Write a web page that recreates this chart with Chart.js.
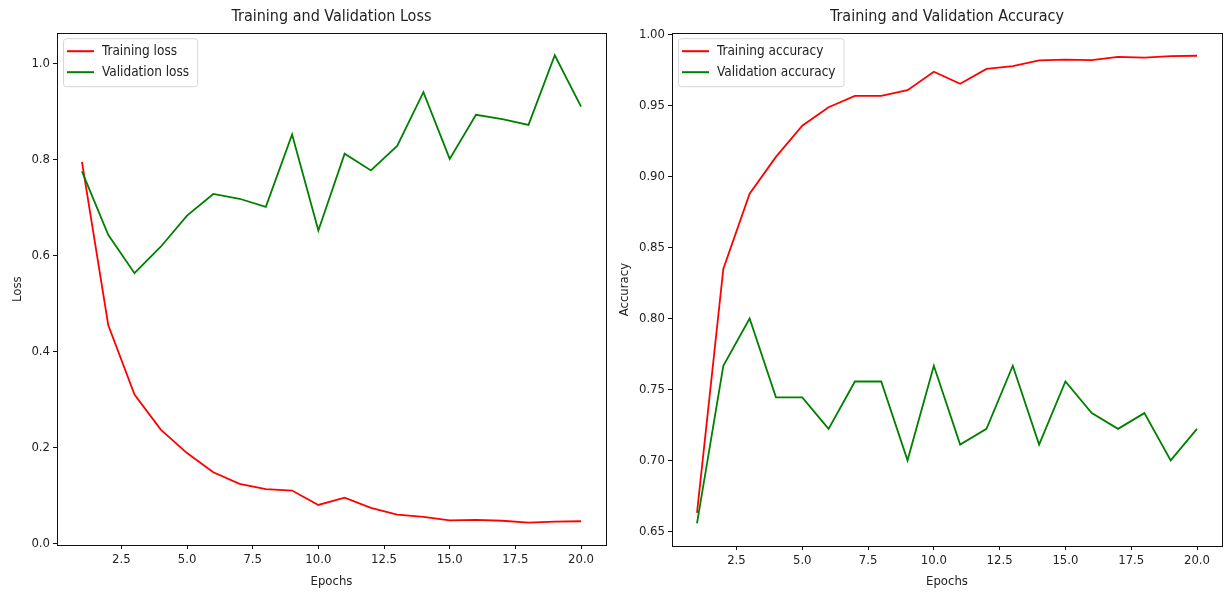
<!DOCTYPE html>
<html>
<head>
<meta charset="utf-8">
<title>Training and Validation</title>
<script src="https://cdn.jsdelivr.net/npm/chart.js@4.4.1/dist/chart.umd.min.js"></script>
<style>
  body { margin: 0; background: #fff; }
  #wrap { position: relative; width: 1224px; height: 594px; }
  canvas { position: absolute; top: 0; }
  #lossChart { left: 0; }
  #accChart { left: 612px; }
</style>
</head>
<body>
<div id="wrap">
  <canvas id="lossChart" width="612" height="594"></canvas>
  <canvas id="accChart" width="612" height="594"></canvas>
</div>
<script>
// values
var epochs = [1, 2, 3, 4, 5, 6, 7, 8, 9, 10, 11, 12, 13, 14, 15, 16, 17, 18, 19, 20];

var trainLoss = [0.795, 0.455, 0.31, 0.237, 0.188, 0.148, 0.124, 0.113, 0.11, 0.08,
                 0.095, 0.074, 0.06, 0.055, 0.048, 0.049, 0.047, 0.043, 0.045, 0.046];
var valLoss = [0.775, 0.643, 0.563, 0.618, 0.683, 0.728, 0.718, 0.701, 0.852, 0.652,
               0.812, 0.777, 0.828, 0.94, 0.801, 0.893, 0.884, 0.872, 1.017, 0.91];

var trainAcc = [0.663, 0.835, 0.888, 0.914, 0.936, 0.949, 0.957, 0.957, 0.961, 0.974,
                0.9655, 0.976, 0.978, 0.982, 0.9825, 0.9822, 0.9845, 0.984, 0.985, 0.9853];
var valAcc = [0.6556, 0.7667, 0.8, 0.7444, 0.7444, 0.7222, 0.7556, 0.7556, 0.7, 0.7667,
              0.7111, 0.7222, 0.7667, 0.7111, 0.7556, 0.7333, 0.7222, 0.7333, 0.7, 0.7222];

var xTicks = [2.5, 5, 7.5, 10, 12.5, 15, 17.5, 20];
var lossTicks = [0, 0.2, 0.4, 0.6, 0.8, 1.0];
var accTicks = [0.65, 0.7, 0.75, 0.8, 0.85, 0.9, 0.95, 1.0];

var FONT = "'DejaVu Sans Condensed', 'DejaVu Sans', sans-serif";
Chart.defaults.font.family = FONT;
Chart.defaults.color = '#222';

function toPoints(ys) {
    return epochs.map(function (e, i) { return { x: e, y: ys[i] }; });
}

// matplotlib style frame round the plot
var framePlugin = {
    id: 'frame',
    afterDraw: function (chart) {
        var a = chart.chartArea, ctx = chart.ctx;
        ctx.save();
        ctx.strokeStyle = '#111';
        ctx.lineWidth = 1;
        ctx.strokeRect(Math.round(a.left) + 0.5, Math.round(a.top) + 0.5,
                       Math.round(a.right - a.left), Math.round(a.bottom - a.top));
        ctx.restore();
    }
};

// legend drawn inside the plot, upper left
var boxLegend = {
    id: 'boxLegend',
    afterDatasetsDraw: function (chart) {
        var a = chart.chartArea, ctx = chart.ctx;
        var sets = chart.data.datasets;
        ctx.save();
        ctx.font = '13.5px ' + FONT;
        var maxW = 0;
        sets.forEach(function (d) { maxW = Math.max(maxW, ctx.measureText(d.label).width); });
        var x0 = a.left + 6, y0 = a.top + 5;
        var w = 39 + maxW + 8, h = 48;
        ctx.beginPath();
        ctx.roundRect(x0 + 0.5, y0 + 0.5, w, h, 3);
        ctx.fillStyle = 'rgba(255,255,255,0.8)';
        ctx.fill();
        ctx.strokeStyle = '#d6d6d6';
        ctx.lineWidth = 1;
        ctx.stroke();
        sets.forEach(function (d, i) {
            var yy = y0 + 13 + i * 21;
            ctx.beginPath();
            ctx.moveTo(x0 + 4, yy);
            ctx.lineTo(x0 + 31, yy);
            ctx.strokeStyle = d.borderColor;
            ctx.lineWidth = 2;
            ctx.stroke();
            ctx.fillStyle = '#222';
            ctx.textBaseline = 'middle';
            ctx.fillText(d.label, x0 + 39, yy);
        });
        ctx.restore();
    }
};

function makeChart(id, opts) {
    var ctx = document.getElementById(id);
    return new Chart(ctx, {
        type: 'line',
        data: {
            datasets: [
                {
                    label: opts.trainLabel,
                    data: toPoints(opts.train),
                    borderColor: '#ff0000',
                    borderWidth: 1.8,
                    pointRadius: 0,
                    tension: 0,
                    order: 2
                },
                {
                    label: opts.valLabel,
                    data: toPoints(opts.val),
                    borderColor: '#008000',
                    borderWidth: 1.8,
                    pointRadius: 0,
                    tension: 0,
                    order: 1
                }
            ]
        },
        options: {
            responsive: false,
            animation: false,
            devicePixelRatio: 1,
            layout: { padding: { left: 0, right: opts.padRight, top: 0, bottom: 0 } },
            plugins: {
                legend: { display: false },
                tooltip: { enabled: false },
                title: {
                    display: true,
                    fullSize: false, // centre over the plot, like matplotlib
                    text: opts.title,
                    color: '#222',
                    font: { size: 16, weight: 'normal' },
                    padding: { top: 7, bottom: 7 }
                }
            },
            scales: {
                x: {
                    type: 'linear',
                    min: 0.05,
                    max: 20.95,
                    afterBuildTicks: function (scale) {
                        scale.ticks = xTicks.map(function (v) { return { value: v }; });
                    },
                    afterFit: function (scale) { scale.height = opts.xHeight; },
                    ticks: {
                        font: { size: 13 },
                        padding: 3,
                        maxRotation: 0,
                        callback: function (v) { return Number(v).toFixed(1); }
                    },
                    grid: { drawOnChartArea: false, drawTicks: true, tickLength: 4, color: '#111' },
                    border: { display: false },
                    title: {
                        display: true,
                        text: 'Epochs',
                        font: { size: 13 },
                        padding: { top: 0, bottom: 5 }
                    }
                },
                y: {
                    type: 'linear',
                    min: opts.yMin,
                    max: opts.yMax,
                    afterBuildTicks: function (scale) {
                        scale.ticks = opts.yTicks.map(function (v) { return { value: v }; });
                    },
                    afterFit: function (scale) { scale.width = opts.yWidth; },
                    ticks: {
                        font: { size: 13 },
                        padding: 3,
                        callback: function (v) { return Number(v).toFixed(opts.decimals); }
                    },
                    grid: { drawOnChartArea: false, drawTicks: true, tickLength: 4, color: '#111' },
                    border: { display: false },
                    title: {
                        display: true,
                        text: opts.yTitle,
                        font: { size: 13 },
                        padding: { top: opts.yTitlePad, bottom: 0 }
                    }
                }
            }
        },
        plugins: [framePlugin, boxLegend]
    });
}

makeChart('lossChart', {
    title: 'Training and Validation Loss',
    trainLabel: 'Training loss',
    valLabel: 'Validation loss',
    train: trainLoss,
    val: valLoss,
    yMin: -0.0035,
    yMax: 1.063,
    yTicks: lossTicks,
    decimals: 1,
    yTitle: 'Loss',
    yTitlePad: 10,
    yWidth: 57,
    xHeight: 49,
    padRight: 6
});

makeChart('accChart', {
    title: 'Training and Validation Accuracy',
    trainLabel: 'Training accuracy',
    valLabel: 'Validation accuracy',
    train: trainAcc,
    val: valAcc,
    yMin: 0.6396,
    yMax: 1.0012,
    yTicks: accTicks,
    decimals: 2,
    yTitle: 'Accuracy',
    yTitlePad: 5,
    yWidth: 60,
    xHeight: 48,
    padRight: 2
});
</script>
</body>
</html>
